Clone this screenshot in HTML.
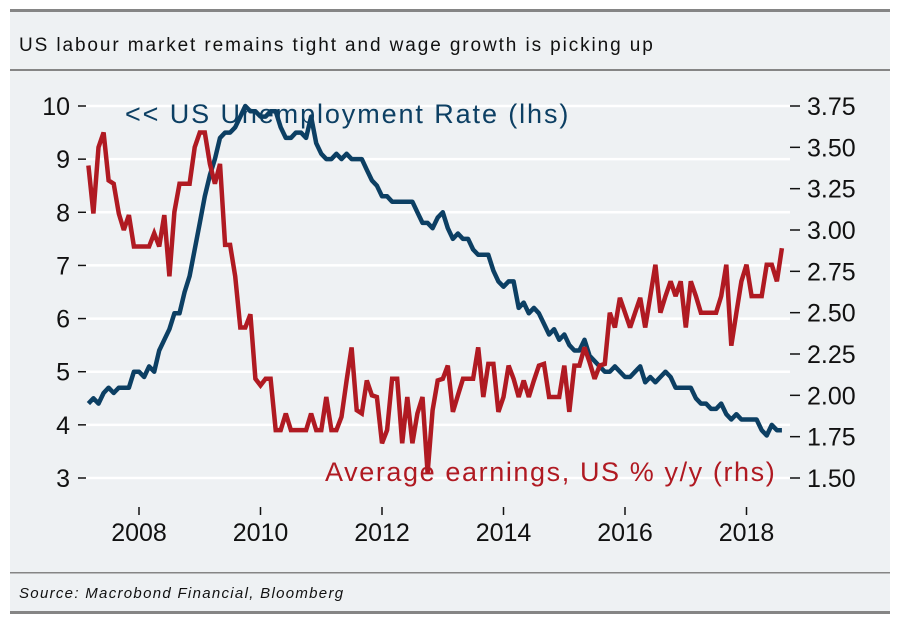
<!DOCTYPE html>
<html><head><meta charset="utf-8">
<style>
html,body{margin:0;padding:0;background:#fff;width:900px;height:621px;overflow:hidden}
svg{display:block;font-family:"Liberation Sans",sans-serif}
</style></head>
<body>
<svg id="chart" width="900" height="621" viewBox="0 0 900 621">
<rect x="10" y="10" width="880" height="603" fill="#eef1f3"/>
<rect x="10" y="9" width="880" height="3" fill="#858585"/>
<rect x="10" y="69" width="880" height="2" fill="#858585"/>
<rect x="10" y="572" width="880" height="1.5" fill="#858585"/>
<rect x="10" y="611" width="880" height="3" fill="#858585"/>
<text x="19" y="51" font-size="19" letter-spacing="1.9" fill="#111">US labour market remains tight and wage growth is picking up</text>
<text x="19" y="598" font-size="15" letter-spacing="1.3" font-style="italic" fill="#111">Source: Macrobond Financial, Bloomberg</text>
<g id="grid"></g><g id="axes"></g><g id="series"></g>
<text x="125" y="123" font-size="27" letter-spacing="1.9" fill="#0c3f63">&lt;&lt; US Unemployment Rate  (lhs)</text>
<text x="325" y="481" font-size="27" letter-spacing="1.6" fill="#b01a22">Average earnings, US % y/y (rhs)</text>
</svg>
<script>
const leftTicks=[3,4,5,6,7,8,9,10];
const rightTicks=[1.5,1.75,2.0,2.25,2.5,2.75,3.0,3.25,3.5,3.75];
const yearTicks=[2008,2010,2012,2014,2016,2018];
const startYear=2007, startMonth=2; // March 2007 (0-based month)
const unemployment=[4.4,4.5,4.4,4.6,4.7,4.6,4.7,4.7,4.7,5.0,
5.0,4.9,5.1,5.0,5.4,5.6,5.8,6.1,6.1,6.5,6.8,7.3,
7.8,8.3,8.7,9.0,9.4,9.5,9.5,9.6,9.8,10.0,9.9,9.9,
9.8,9.8,9.9,9.9,9.6,9.4,9.4,9.5,9.5,9.4,9.8,9.3,
9.1,9.0,9.0,9.1,9.0,9.1,9.0,9.0,9.0,8.8,8.6,8.5,
8.3,8.3,8.2,8.2,8.2,8.2,8.2,8.0,7.8,7.8,7.7,7.9,
8.0,7.7,7.5,7.6,7.5,7.5,7.3,7.2,7.2,7.2,6.9,6.7,
6.6,6.7,6.7,6.2,6.3,6.1,6.2,6.1,5.9,5.7,5.8,5.6,
5.7,5.5,5.4,5.4,5.6,5.3,5.2,5.1,5.0,5.0,5.1,5.0,
4.9,4.9,5.0,5.1,4.8,4.9,4.8,4.9,5.0,4.9,4.7,4.7,
4.7,4.7,4.5,4.4,4.4,4.3,4.3,4.4,4.2,4.1,4.2,4.1,
4.1,4.1,4.1,3.9,3.8,4.0,3.9,3.9];
const earnings=[3.39,3.10,3.50,3.59,3.30,3.28,3.10,3.00,3.09,2.90,
2.90,2.90,2.90,2.98,2.90,3.09,2.72,3.11,3.28,3.28,3.28,3.50,
3.59,3.59,3.40,3.28,3.40,2.91,2.91,2.72,2.41,2.41,2.49,2.10,
2.06,2.10,2.10,1.79,1.79,1.89,1.79,1.79,1.79,1.79,1.89,1.79,
1.79,1.99,1.79,1.79,1.87,2.09,2.29,1.91,1.89,2.09,2.00,1.99,
1.71,1.79,2.10,2.10,1.71,1.99,1.71,1.89,1.99,1.53,1.91,2.09,
2.10,2.18,1.90,2.00,2.10,2.10,2.10,2.29,1.99,2.19,2.19,1.90,
1.99,2.18,2.10,1.99,2.09,1.99,2.09,2.18,2.19,1.99,1.99,1.99,
2.18,1.90,2.18,2.18,2.29,2.20,2.10,2.18,2.19,2.50,2.41,2.59,
2.50,2.41,2.50,2.59,2.41,2.60,2.79,2.50,2.60,2.69,2.60,2.69,
2.41,2.69,2.60,2.50,2.50,2.50,2.50,2.60,2.79,2.30,2.50,2.69,
2.79,2.60,2.60,2.60,2.79,2.79,2.69,2.89];

const NS='http://www.w3.org/2000/svg';
const xScale=t=>139+(t-2008)*60.75;
const yL=v=>478-(v-3)*(372/7);
const yR=v=>478-(v-1.5)*(372/2.25);
function mk(tag,attrs,parent){const e=document.createElementNS(NS,tag);for(const k in attrs)e.setAttribute(k,attrs[k]);parent.appendChild(e);return e;}
const grid=document.getElementById('grid'),axes=document.getElementById('axes'),series=document.getElementById('series');
leftTicks.forEach(v=>{
  const g=mk('line',{x1:80,x2:790,y1:yL(v),y2:yL(v),stroke:'#ffffff','stroke-width':2.5},grid);
  
  
  const tk=mk('line',{x1:78,x2:86,y1:yL(v),y2:yL(v),stroke:'#111','stroke-width':1.5},axes);
  
  
  const t=mk('text',{x:70,y:yL(v)+9,'font-size':25,'text-anchor':'end',fill:'#111'},axes);
  t.textContent=v;
  
  
});
rightTicks.forEach(v=>{
  const tk=mk('line',{x1:790,x2:800,y1:yR(v),y2:yR(v),stroke:'#111','stroke-width':1.5},axes);
  
  
  const t=mk('text',{x:807,y:yR(v)+9,'font-size':25,fill:'#111'},axes);
  t.textContent=v.toFixed(2);
  
  
});
yearTicks.forEach(y=>{
  const tk=mk('line',{x1:xScale(y),x2:xScale(y),y1:507,y2:515,stroke:'#111','stroke-width':1.5},axes);
  
  
  const t=mk('text',{x:xScale(y),y:541,'font-size':25,'text-anchor':'middle',fill:'#111'},axes);
  t.textContent=y;
  
  
});
function tOf(i){return startYear+(startMonth+i)/12;}
const pu=unemployment.map((v,i)=>xScale(tOf(i)).toFixed(1)+','+yL(v).toFixed(1)).join(' ');
const lu=mk('polyline',{points:pu,fill:'none',stroke:'#0c3f63','stroke-width':4.5,'stroke-linejoin':'round'},series);


const pe=earnings.map((v,i)=>xScale(tOf(i)).toFixed(1)+','+yR(v).toFixed(1)).join(' ');
const le=mk('polyline',{points:pe,fill:'none',stroke:'#b01a22','stroke-width':4.5,'stroke-linejoin':'miter','stroke-miterlimit':3},series);


</script>
</body></html>
